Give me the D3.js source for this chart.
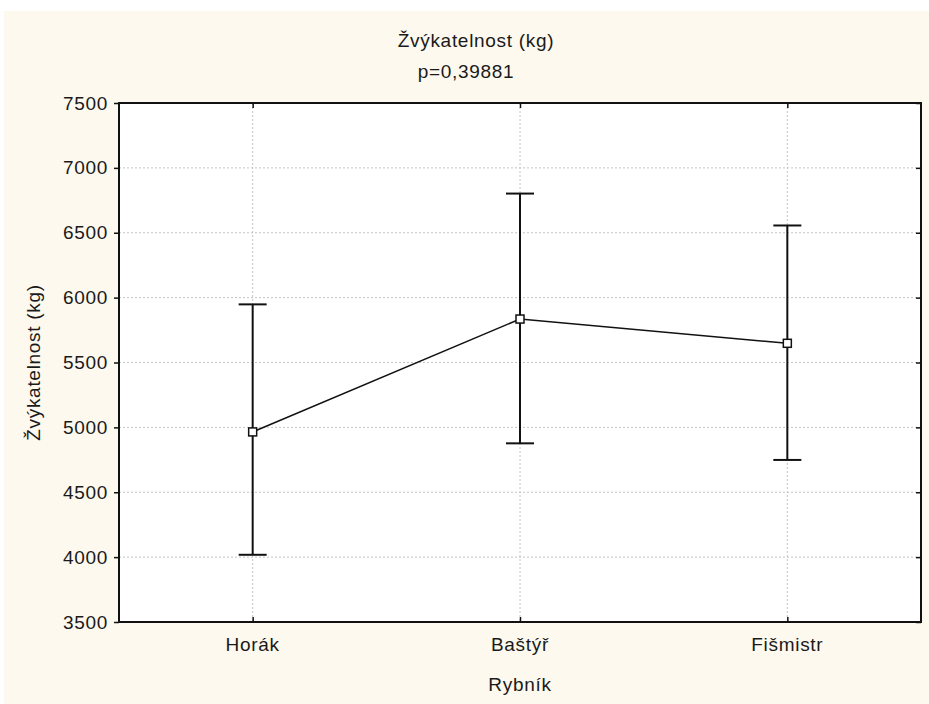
<!DOCTYPE html>
<html lang="cs">
<head>
    <meta charset="UTF-8">
    <title>Žvýkatelnost (kg)</title>
    <style>
        body { margin: 0; background: #fff; }
        svg { display: block; }
        text { font-family: "Liberation Sans", Arial, sans-serif; fill: #1a1a1a; letter-spacing: 0.7px; }
    </style>
</head>
<body>
    <script src="https://d3js.org/d3.v7.min.js"></script>
    <script>
        // Data (means with 95 % intervals)
        const categories = ['Horák', 'Baštýř', 'Fišmistr'];
        const means = [4965, 5835, 5648];
        const lower = [4018, 4877, 4749];
        const upper = [5948, 6802, 6556];
        const yTicks = [3500, 4000, 4500, 5000, 5500, 6000, 6500, 7000, 7500];

        const W = 929, H = 704;
        const margin = { top: 103, right: 8, bottom: 82, left: 119 };
        const plotW = W - margin.left - margin.right;
        const plotH = H - margin.top - margin.bottom;
        const FONT = '19px';

        const svg = d3.select('body').append('svg')
            .attr('width', W)
            .attr('height', H);

        // cream panel
        svg.append('rect')
            .attr('x', 4).attr('y', 11)
            .attr('width', W - 4).attr('height', H - 11)
            .attr('fill', '#fdf9ee');

        const chart = svg.append('g')
            .attr('transform', `translate(${margin.left},${margin.top})`);

        chart.append('rect')
            .attr('width', plotW).attr('height', plotH)
            .attr('fill', '#fff');

        const x = d3.scalePoint()
            .domain(categories)
            .range([0, plotW])
            .padding(0.5);

        const y = d3.scaleLinear()
            .domain([3500, 7500])
            .range([plotH, 0]);

        // grid
        chart.append('g')
            .selectAll('line')
            .data(yTicks.slice(1, -1))
            .join('line')
            .attr('x1', 0).attr('x2', plotW)
            .attr('y1', d => y(d)).attr('y2', d => y(d))
            .attr('stroke', '#c4c4c4')
            .attr('stroke-dasharray', '2,2');

        chart.append('g')
            .selectAll('line')
            .data(categories)
            .join('line')
            .attr('x1', d => x(d)).attr('x2', d => x(d))
            .attr('y1', 0).attr('y2', plotH)
            .attr('stroke', '#c4c4c4')
            .attr('stroke-dasharray', '2,2');

        // axes
        const yAxis = chart.append('g')
            .call(d3.axisLeft(y).tickValues(yTicks).tickSize(5).tickSizeOuter(0)
                .tickPadding(6).tickFormat(d3.format('d')));
        yAxis.selectAll('text')
            .style('font-size', FONT)
            .style('font-family', '"Liberation Sans", Arial, sans-serif')
            .attr('fill', '#1a1a1a');

        chart.append('g')
            .attr('transform', `translate(${plotW},0)`)
            .call(d3.axisLeft(y).tickValues(yTicks).tickSize(5).tickSizeOuter(0).tickFormat(''));

        chart.append('g')
            .attr('transform', `translate(0,${plotH})`)
            .call(d3.axisTop(x).tickSize(5).tickSizeOuter(0).tickFormat(''));

        chart.append('g')
            .call(d3.axisBottom(x).tickSize(5).tickSizeOuter(0).tickFormat(''));

        chart.append('g')
            .attr('transform', `translate(0,${plotH})`)
            .selectAll('text')
            .data(categories)
            .join('text')
            .attr('x', d => x(d))
            .attr('y', 29)
            .attr('text-anchor', 'middle')
            .style('font-size', FONT)
            .text(d => d);

        chart.selectAll('.domain').remove();
        chart.selectAll('.tick line').attr('stroke', '#111').attr('stroke-width', 1.5);

        chart.append('rect')
            .attr('width', plotW).attr('height', plotH)
            .attr('fill', 'none')
            .attr('stroke', '#111')
            .attr('stroke-width', 2);

        // error bars
        const eb = chart.append('g')
            .selectAll('g')
            .data(categories)
            .join('g');

        eb.append('line')
            .attr('x1', d => x(d)).attr('x2', d => x(d))
            .attr('y1', (d, i) => y(upper[i])).attr('y2', (d, i) => y(lower[i]))
            .attr('stroke', '#111').attr('stroke-width', 2);

        eb.append('line')
            .attr('x1', d => x(d) - 14).attr('x2', d => x(d) + 14)
            .attr('y1', (d, i) => y(upper[i])).attr('y2', (d, i) => y(upper[i]))
            .attr('stroke', '#111').attr('stroke-width', 2);

        eb.append('line')
            .attr('x1', d => x(d) - 14).attr('x2', d => x(d) + 14)
            .attr('y1', (d, i) => y(lower[i])).attr('y2', (d, i) => y(lower[i]))
            .attr('stroke', '#111').attr('stroke-width', 2);

        // mean line
        const line = d3.line()
            .x((d, i) => x(categories[i]))
            .y(d => y(d));

        chart.append('path')
            .datum(means)
            .attr('d', line)
            .attr('fill', 'none')
            .attr('stroke', '#111')
            .attr('stroke-width', 1.5);

        chart.append('g')
            .selectAll('rect')
            .data(means)
            .join('rect')
            .attr('x', (d, i) => x(categories[i]) - 4)
            .attr('y', d => y(d) - 4)
            .attr('width', 8).attr('height', 8)
            .attr('fill', '#fff')
            .attr('stroke', '#111')
            .attr('stroke-width', 1.5);

        // titles
        svg.append('text')
            .attr('x', 476).attr('y', 47)
            .attr('text-anchor', 'middle')
            .style('font-size', FONT)
            .text('Žvýkatelnost (kg)');

        svg.append('text')
            .attr('x', 466).attr('y', 78)
            .attr('text-anchor', 'middle')
            .style('font-size', FONT)
            .text('p=0,39881');

        svg.append('text')
            .attr('x', margin.left + plotW / 2).attr('y', 691)
            .attr('text-anchor', 'middle')
            .style('font-size', FONT)
            .text('Rybník');

        svg.append('text')
            .attr('transform', `translate(40,${margin.top + plotH / 2}) rotate(-90)`)
            .attr('text-anchor', 'middle')
            .style('font-size', FONT)
            .text('Žvýkatelnost (kg)');
    </script>
</body>
</html>
